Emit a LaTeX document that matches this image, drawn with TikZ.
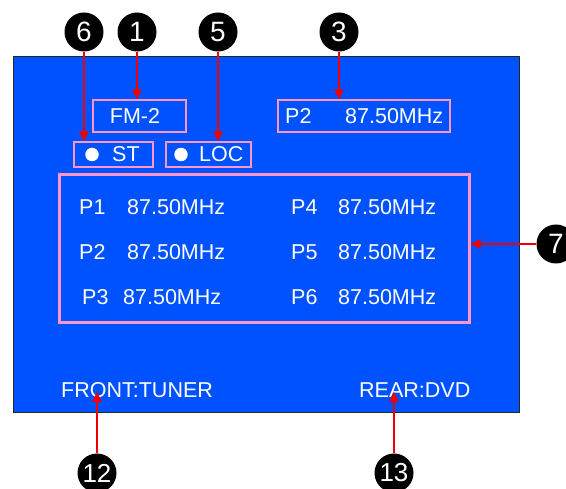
\documentclass[tikz,border=0pt]{standalone}
\usepackage{fontspec}
\setmainfont{Liberation Sans}
\usetikzlibrary{arrows.meta}
\definecolor{lcdblue}{RGB}{0,82,255}
\definecolor{lcdpink}{RGB}{255,150,200}
\definecolor{callred}{RGB}{240,0,0}

\begin{document}
\begin{tikzpicture}[
    x=1pt, y=-1pt,
    screen/.style={
        draw=black!85,
        fill=lcdblue,      % the blue display area
        line width=1pt,
        inner sep=0pt
    },
    lcdbox/.style={draw=lcdpink, line width=1.2pt, inner sep=0pt},
    lcdtext/.style={
        text=white,
        inner sep=0pt,     % so the anchor sits on the letters
        font=\fontsize{21.5}{22}\selectfont
    },
    dot/.style={circle, fill=white, minimum size=13.5pt, inner sep=0pt},
    numcirc/.style={
        circle,
        fill=black,
        text=white,
        minimum size=39pt,
        inner sep=0pt,
        font=\fontsize{28}{28}\selectfont
    },
    twodigit/.style={font=\fontsize{26}{26}\selectfont},
    callout/.style={draw=callred, line width=2pt, -{Triangle[width=9pt,length=10pt]}}
]
\useasboundingbox (0,0) rectangle (566,489);

% display
\node[screen, minimum width=506pt, minimum height=356pt] (screen) at (266,235) {};

% top row
\node[lcdbox, minimum width=93pt, minimum height=32pt] (fmbox) at (139.5,116) {};
\node[lcdtext] (band) at (135,116) {FM-2};
\node[lcdbox, minimum width=172pt, minimum height=32pt] (chbox) at (364,116) {};
\node[lcdtext, anchor=west] (chnum) at (285,116) {P2};
\node[lcdtext, anchor=west] (chfreq) at (345,116) {87.50MHz};

% indicators
\node[lcdbox, minimum width=79pt, minimum height=25pt] (stbox) at (113.5,154.5) {};
\node[dot] (stdot) at (92,154.5) {};
\node[lcdtext, anchor=west] (st) at (112,154.5) {ST};
\node[lcdbox, minimum width=85pt, minimum height=25pt] (locbox) at (208.5,154.5) {};
\node[dot] (locdot) at (181,154.5) {};
\node[lcdtext, anchor=west] (loc) at (199,154.5) {LOC};

% preset list
\node[draw=lcdpink, line width=3pt, minimum width=410pt, minimum height=148pt] (list) at (264,249) {};
\node[lcdtext, anchor=west] (p1) at (79,207) {P1};
\node[lcdtext, anchor=west] (f1) at (127,207) {87.50MHz};
\node[lcdtext, anchor=west] (p2) at (79,252) {P2};
\node[lcdtext, anchor=west] (f2) at (127,252) {87.50MHz};
\node[lcdtext, anchor=west] (p3) at (82,297.5) {P3};
\node[lcdtext, anchor=west] (f3) at (123,297.5) {87.50MHz};
\node[lcdtext, anchor=west] (p4) at (291,207) {P4};
\node[lcdtext, anchor=west] (f4) at (338,207) {87.50MHz};
\node[lcdtext, anchor=west] (p5) at (291,252) {P5};
\node[lcdtext, anchor=west] (f5) at (338,252) {87.50MHz};
\node[lcdtext, anchor=west] (p6) at (291,297.5) {P6};
\node[lcdtext, anchor=west] (f6) at (338,297.5) {87.50MHz};

% sources
\node[lcdtext, anchor=west] (front) at (61,390) {FRONT:TUNER};
\node[lcdtext, anchor=west] (rear) at (359,390) {REAR:DVD};

% callout numbers
\node[numcirc] (n6) at (84,32) {6};
\node[numcirc] (n1) at (137,32) {1};
\node[numcirc] (n5) at (218,32) {5};
\node[numcirc] (n3) at (339,32) {3};
\node[numcirc] (n7) at (556,244) {7};
\node[numcirc, twodigit] (n12) at (97,473) {12};
\node[numcirc, twodigit] (n13) at (394,473) {13};

\draw[callout] (n6.south) -- (n6.south |- stbox.north);
\draw[callout] (n1.south) -- (n1.south |- fmbox.north);
\draw[callout] (n5.south) -- (n5.south |- locbox.north);
\draw[callout] (n3.south) -- (n3.south |- chbox.north);
\draw[callout] (n7.west) -- (n7.west -| list.east);
\draw[callout] (n12.north) -- ([yshift=6pt]n12.north |- front.south);
\draw[callout] (n13.north) -- ([yshift=6pt]n13.north |- rear.south);
\end{tikzpicture}
\end{document}
